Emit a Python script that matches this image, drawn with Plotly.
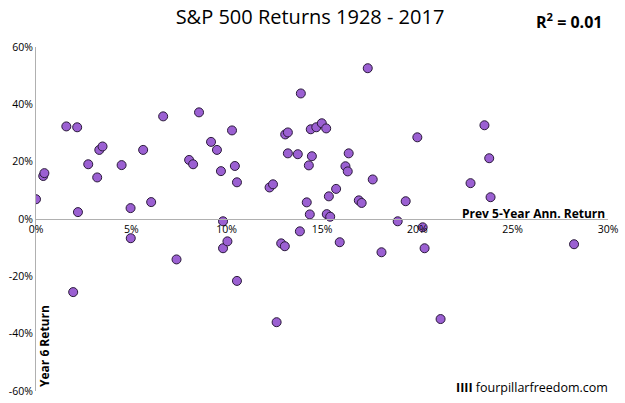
import plotly.graph_objects as go

# Previous 5-year annualized return (%) and following year (year 6) return (%)
prev5 = [0.0, 0.38, 0.44, 1.59, 2.16, 2.2, 2.74, 3.21, 3.32, 3.49, 4.49, 4.96, 5.62, 6.04,
         6.67, 8.03, 8.24, 8.55, 9.18, 9.49, 9.70, 10.28, 10.43, 10.54, 12.25, 12.43, 13.07,
         13.21, 13.21, 13.73, 13.89, 14.2, 14.31, 14.36, 14.41, 14.47, 9.81,
         14.70, 14.99, 15.22, 17.40, 16.40, 16.23, 16.35, 17.66, 15.74, 15.36, 15.25, 15.43,
         16.93, 17.08, 19.39, 20.0, 23.52, 23.77, 22.79, 23.84, 18.97, 20.28,
         4.97, 1.95, 7.37, 9.81, 10.04, 10.54, 12.62, 12.86, 13.05, 13.84,
         15.93, 18.12, 20.38, 28.22, 21.22]
year6 = [6.9, 15.0, 16.0, 32.3, 32.0, 2.4, 19.1, 14.5, 24.1, 25.3, 18.8, 3.8, 24.1, 5.9,
         35.8, 20.6, 19.1, 37.2, 26.9, 24.1, 16.7, 30.9, 18.5, 12.8, 11.0, 12.1, 29.5,
         30.2, 22.9, 22.6, 43.8, 5.8, 18.7, 1.6, 31.3, 21.9, -0.8,
         32.0, 33.4, 31.6, 52.6, 22.9, 18.4, 16.6, 13.8, 10.5, 7.9, 1.7, 0.8,
         6.5, 5.6, 6.2, 28.5, 32.7, 21.2, 12.5, 7.6, -0.8, -2.9,
         -6.7, -25.5, -14.1, -10.2, -7.8, -21.6, -36.0, -8.5, -9.5, -4.3,
         -8.1, -11.6, -10.2, -8.8, -34.9]

x_ticks = [0, 5, 10, 15, 20, 25, 30]
y_ticks = [-60, -40, -20, 0, 20, 40, 60]

FONT = "Open Sans"

fig = go.Figure(go.Scatter(
    x=prev5, y=year6, mode="markers",
    marker=dict(size=9, color="#9B60D2", line=dict(color="#2a1a3a", width=1)),
    hoverinfo="x+y",
))

fig.update_layout(
    width=625, height=403,
    margin=dict(l=36, r=17, t=47, b=12, autoexpand=False),
    paper_bgcolor="white", plot_bgcolor="white",
    showlegend=False,
    font=dict(family=FONT, color="#000000"),
    title=dict(text="S&P 500 Returns 1928 - 2017", x=0.496, xref="container",
               y=1 - 17 / 403, yref="container", xanchor="center", yanchor="middle",
               font=dict(size=20, family=FONT, color="#000000")),
    xaxis=dict(range=[0, 30], tickvals=x_ticks, ticktext=[f"{v}%" for v in x_ticks],
               showgrid=False, zeroline=False, showline=True, linecolor="#b0b0b0",
               linewidth=1, anchor="free", position=0.5, ticks="", automargin=False,
               tickfont=dict(size=10.5, family=FONT, color="#000000")),
    yaxis=dict(range=[-60, 60], tickvals=y_ticks, ticktext=[f"{v}%" for v in y_ticks],
               showgrid=False, zeroline=False, showline=True, linecolor="#b0b0b0",
               linewidth=1, ticks="", automargin=False,
               tickfont=dict(size=10.5, family=FONT, color="#000000")),
)

fig.add_annotation(text="<b>R<sup>2</sup> = 0.01</b>", xref="paper", yref="paper",
                   x=(604 - 36) / 572, y=(391 - 21) / 344, xanchor="right", yanchor="middle",
                   showarrow=False, font=dict(size=16, family=FONT, color="#000000"))
fig.add_annotation(text="<b>Prev 5-Year Ann. Return</b>", xref="paper", yref="paper",
                   x=(607 - 36) / 572, y=(391 - 213) / 344, xanchor="right", yanchor="middle",
                   showarrow=False, font=dict(size=12, family=FONT, color="#000000"))
fig.add_annotation(text="<b>Year 6 Return</b>", xref="paper", yref="paper",
                   x=(44 - 36) / 572, y=(391 - 346) / 344, xanchor="center", yanchor="middle",
                   textangle=-90, showarrow=False,
                   font=dict(size=12, family=FONT, color="#000000"))
fig.add_annotation(text="<b>IIII</b> fourpillarfreedom.com", xref="paper", yref="paper",
                   x=(610 - 36) / 572, y=(391 - 387) / 344, xanchor="right", yanchor="middle",
                   showarrow=False, font=dict(size=12.5, family=FONT, color="#000000"))

fig.write_html("out.html")
